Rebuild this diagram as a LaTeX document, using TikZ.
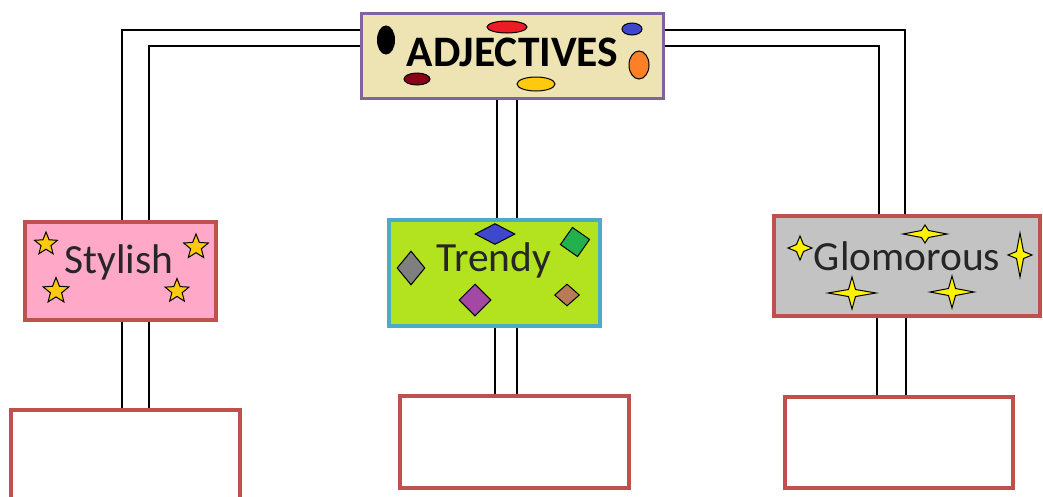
\documentclass[tikz,border=0pt]{standalone}
\usepackage{fontspec}
\setmainfont{Carlito}
\usetikzlibrary{shapes.geometric,calc}
\definecolor{beige}{HTML}{EEE3B3}
\definecolor{purp}{HTML}{8064A2}
\definecolor{redb}{HTML}{C0504D}
\definecolor{pinkf}{HTML}{FFA8C8}
\definecolor{limef}{HTML}{B3E31E}
\definecolor{cyanb}{HTML}{4BACC6}
\definecolor{grayf}{HTML}{C3C3C3}
\definecolor{txt}{HTML}{262626}
\definecolor{gold}{HTML}{FFC90E}
\definecolor{pred}{HTML}{ED1C24}
\definecolor{pblue}{HTML}{3F48CC}
\definecolor{porange}{HTML}{FF7F27}
\definecolor{pdred}{HTML}{880015}
\definecolor{pgreen}{HTML}{22B14C}
\definecolor{pgray}{HTML}{7F7F7F}
\definecolor{ppurple}{HTML}{A349A4}
\definecolor{pbrown}{HTML}{B97A57}
\tikzset{
  box/.style={draw=redb,line width=4pt,inner sep=0pt},
  conn/.style={draw=black,line width=1.3pt},
  lbl/.style={text=txt,font=\fontsize{41.5}{41.5}\selectfont},
  ell/.style={ellipse,draw=black,line width=1pt,inner sep=0pt},
  starf/.style={star,star points=5,star point ratio=2.3,fill=gold,draw=black,line width=1pt,inner sep=0pt},
  dia/.style={diamond,draw=black,line width=1pt,inner sep=0pt},
  spk/.style={fill=yellow,draw=black,line width=1pt,line join=miter}
}
\newcommand\sparkle[4]{\draw[spk,shift={(#1,#2)}] (#3,0) -- (3.5,3.5) -- (0,#4) -- (-3.5,3.5) -- (-#3,0) -- (-3.5,-3.5) -- (0,-#4) -- (3.5,-3.5) -- cycle;}
\begin{document}
\begin{tikzpicture}[x=1pt,y=-1pt]
\useasboundingbox (0,0) rectangle (1043,496);
% main boxes
\node[draw=purp,fill=beige,line width=3pt,inner sep=0pt,minimum width=302pt,minimum height=85pt] (adj) at (512.5,56) {};
\node[box,fill=pinkf,minimum width=191pt,minimum height=98pt] (sty) at (120.5,271) {};
\node[draw=cyanb,fill=limef,line width=4pt,inner sep=0pt,minimum width=211pt,minimum height=106pt] (tre) at (494.5,273) {};
\node[box,fill=grayf,minimum width=266pt,minimum height=100pt] (glo) at (907,266) {};
\node[box,fill=white,minimum width=229pt,minimum height=100pt] (b1) at (125.5,460) {};
\node[box,fill=white,minimum width=229pt,minimum height=92pt] (b2) at (514.5,442) {};
\node[box,fill=white,minimum width=228pt,minimum height=91pt] (b3) at (899,442.5) {};
% connectors
\draw[conn] ($(adj.west)+(0,-26)$) -| ($(sty.north)+(1.5,0)$);
\draw[conn] ($(adj.west)+(0,-10)$) -| ($(sty.north)+(28.5,0)$);
\draw[conn] ($(adj.east)+(0,-26)$) -| ($(glo.north)+(-2,0)$);
\draw[conn] ($(adj.east)+(0,-10)$) -| ($(glo.north)+(-28,0)$);
\draw[conn] ($(adj.south)+(-15.5,0)$) -- ($(tre.north)+(2.5,0)$);
\draw[conn] ($(adj.south)+(4.5,0)$) -- ($(tre.north)+(22.5,0)$);
\draw[conn] ($(sty.south)+(1.5,0)$) -- ($(b1.north)+(-3.5,0)$);
\draw[conn] ($(sty.south)+(28.5,0)$) -- ($(b1.north)+(23.5,0)$);
\draw[conn] ($(tre.south)+(0.5,0)$) -- ($(b2.north)+(-19.5,0)$);
\draw[conn] ($(tre.south)+(22.5,0)$) -- ($(b2.north)+(2.5,0)$);
\draw[conn] ($(glo.south)+(-30,0)$) -- ($(b3.north)+(-22,0)$);
\draw[conn] ($(glo.south)+(-1,0)$) -- ($(b3.north)+(7,0)$);
% labels
\node[text=black,font=\bfseries\fontsize{43.5}{43.5}\selectfont] (adjt) at (512.5,52) {ADJECTIVES};
\node[lbl] (styt) at (119,262) {Stylish};
\node[lbl] (tret) at (494,260) {Trendy};
\node[lbl] (glot) at (907,256) {Glomorous};
% ellipses on ADJECTIVES
\node[ell,fill=black,minimum width=17pt,minimum height=28pt] (e1) at (386,40) {};
\node[ell,fill=pred,minimum width=40pt,minimum height=12pt] (e2) at (507,27) {};
\node[ell,fill=pblue,minimum width=20pt,minimum height=12pt] (e3) at (632,29) {};
\node[ell,fill=porange,minimum width=20pt,minimum height=28pt] (e4) at (639,65) {};
\node[ell,fill=pdred,minimum width=26pt,minimum height=12pt] (e5) at (417,79) {};
\node[ell,fill=gold,minimum width=38pt,minimum height=14pt] (e6) at (536,84) {};
% stars on Stylish
\node[starf,minimum size=24pt] (s1) at (46,244) {};
\node[starf,minimum size=26pt] (s2) at (196,247) {};
\node[starf,minimum size=27pt] (s3) at (56,291) {};
\node[starf,minimum size=25pt] (s4) at (177,291) {};
% diamonds on Trendy
\node[dia,fill=pblue,minimum width=40pt,minimum height=21pt] (d1) at (495,234) {};
\node[dia,fill=pgreen,minimum width=30pt,minimum height=30pt,rotate=10] (d2) at (575,242) {};
\node[dia,fill=pgray,minimum width=28pt,minimum height=34pt] (d3) at (411,268) {};
\node[dia,fill=ppurple,minimum width=32pt,minimum height=32pt] (d4) at (475,300) {};
\node[dia,fill=pbrown,minimum width=25pt,minimum height=22pt] (d5) at (567,295) {};
% sparkles on Glomorous
\sparkle{800}{248}{12}{12}
\sparkle{925}{234}{22}{9}
\sparkle{1020}{255}{12}{22}
\sparkle{852}{293}{24}{16}
\sparkle{952}{292}{22}{16}
\end{tikzpicture}
\end{document}
